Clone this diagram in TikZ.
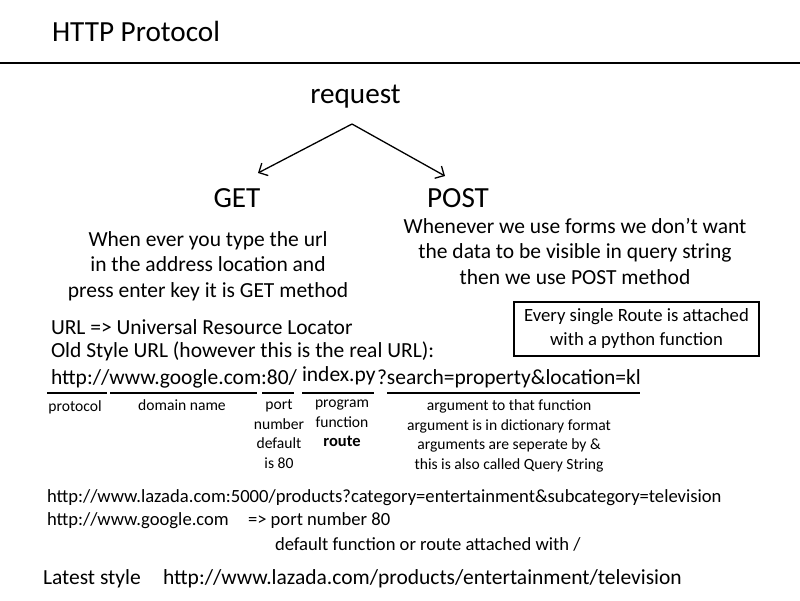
\documentclass[tikz,border=0pt]{standalone}
\usepackage{fontspec}
\setmainfont{Carlito}
\usetikzlibrary{arrows.meta}
\begin{document}
\begin{tikzpicture}[x=1pt,y=-1pt,
  txt/.style={inner sep=0pt, outer sep=0pt},
  big/.style={txt, font=\fontsize{29.2}{34}\selectfont},
  mid/.style={txt, font=\fontsize{21.5}{25.5}\selectfont},
  small/.style={txt, font=\fontsize{15.6}{19.5}\selectfont, align=center},
  foot/.style={txt, font=\fontsize{18.6}{21}\selectfont},
  uline/.style={line width=1.8pt},
  arr/.style={line width=1.3pt, -{Straight Barb[length=7pt,width=14pt,line width=1.3pt]}}]
\useasboundingbox (0,0) rectangle (800,600);
% title
\node[big, anchor=west] (title) at (52,31) {HTTP Protocol};
\coordinate (rl) at (0,63);
\coordinate (rr) at (800,63);
\draw[line width=1.6pt] (rl) -- (rr);
% request tree
\node[big] (request) at (355.5,97) {request};
\node[big] (get) at (237,198) {GET};
\node[big] (post) at (458,198) {POST};
\coordinate (fork) at (352,124);
\coordinate (tipL) at (258,173);
\coordinate (tipR) at (445,176);
\draw[arr] (fork) -- (tipL);
\draw[arr] (fork) -- (tipR);
% descriptions
\node[mid, align=center] (getdesc) at (208,266) {When ever you type the url\\in the address location and\\press enter key it is GET method};
\node[mid, align=center] (postdesc) at (575,251) {Whenever we use forms we don't want\\the data to be visible in query string\\then we use POST method};
% box
\node[draw, line width=1.3pt, minimum width=245pt, minimum height=54pt, inner sep=0pt, align=center, font=\fontsize{18.7}{24}\selectfont] (box) at (636.5,329) {Every single Route is attached\\with a python function};
% URL lines
\node[mid, anchor=west] (urldef) at (51,327) {URL => Universal Resource Locator};
\node[mid, anchor=west] (oldurl) at (51,351) {Old Style URL (however this is the real URL):};
\node[mid, anchor=west] (urlpart) at (51,379) {http://www.google.com:80/};
\node[mid, anchor=west] (indexpy) at (302,376) {index.py};
\node[mid, anchor=west] (query) at (377,379) {?search=property\&location=kl};
% underlines
\coordinate (u1a) at (47,393); \coordinate (u1b) at (107,393);
\coordinate (u2a) at (110,393); \coordinate (u2b) at (257,393);
\coordinate (u3a) at (262,393); \coordinate (u3b) at (294,393);
\coordinate (u4a) at (302,393); \coordinate (u4b) at (374,393);
\coordinate (u5a) at (387,393); \coordinate (u5b) at (640,393);
\draw[uline] (u1a) -- (u1b);
\draw[uline] (u2a) -- (u2b);
\draw[uline] (u3a) -- (u3b);
\draw[uline] (u4a) -- (u4b);
\draw[uline] (u5a) -- (u5b);
% labels
\node[small, anchor=north] (lprot) at (75,401) {protocol};
\node[small, anchor=north] (ldom) at (182,400) {domain name};
\node[small, anchor=north] (lport) at (279,400) {port\\number\\default\\is 80};
\node[small, anchor=north] (lprog) at (342,400) {program\\function\\\textbf{\fontsize{16.5}{19.5}\selectfont route}};
\node[small, anchor=north] (larg) at (509,400) {argument to that function\\argument is in dictionary format\\arguments are seperate by \&\\this is also called Query String};
% bottom
\node[foot, anchor=west] (lazada) at (47,498) {http://www.lazada.com:5000/products?category=entertainment\&subcategory=television};
\node[foot, anchor=west] (google) at (47,521) {http://www.google.com};
\node[foot, anchor=west] (port80) at (248,521) {=> port number 80};
\node[foot, anchor=west] (deffun) at (275,544) {default function or route attached with /};
\node[mid, anchor=west] (latest) at (43,579) {Latest style};
\node[mid, anchor=west] (latesturl) at (163,579) {http://www.lazada.com/products/entertainment/television};
\end{tikzpicture}
\end{document}
